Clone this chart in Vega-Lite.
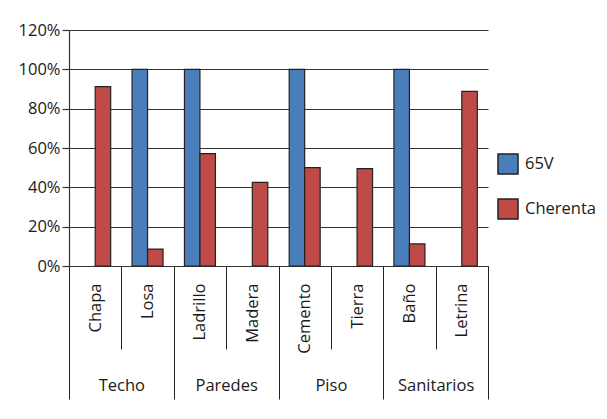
{
  "$schema": "https://vega.github.io/schema/vega-lite/v6.json",
  "width": 419,
  "height": 236,
  "autosize": {"type": "none"},
  "padding": {"left": 69, "top": 30, "right": 119, "bottom": 153},
  "background": "white",
  "config": {
    "view": {"stroke": null},
    "font": "Open Sans",
    "axis": {"labelColor": "#1a1a1a", "labelFontSize": 16.5, "labelFont": "Open Sans"},
    "legend": {"labelFont": "Open Sans"}
  },
  "data": {
    "values": [
      {"cat": "Chapa", "group": "Techo", "serie": "65V", "value": 0},
      {"cat": "Chapa", "group": "Techo", "serie": "Cherenta", "value": 0.912},
      {"cat": "Losa", "group": "Techo", "serie": "65V", "value": 1.0},
      {"cat": "Losa", "group": "Techo", "serie": "Cherenta", "value": 0.086},
      {"cat": "Ladrillo", "group": "Paredes", "serie": "65V", "value": 1.0},
      {"cat": "Ladrillo", "group": "Paredes", "serie": "Cherenta", "value": 0.571},
      {"cat": "Madera", "group": "Paredes", "serie": "65V", "value": 0},
      {"cat": "Madera", "group": "Paredes", "serie": "Cherenta", "value": 0.425},
      {"cat": "Cemento", "group": "Piso", "serie": "65V", "value": 1.0},
      {"cat": "Cemento", "group": "Piso", "serie": "Cherenta", "value": 0.5},
      {"cat": "Tierra", "group": "Piso", "serie": "65V", "value": 0},
      {"cat": "Tierra", "group": "Piso", "serie": "Cherenta", "value": 0.495},
      {"cat": "Baño", "group": "Sanitarios", "serie": "65V", "value": 1.0},
      {"cat": "Baño", "group": "Sanitarios", "serie": "Cherenta", "value": 0.112},
      {"cat": "Letrina", "group": "Sanitarios", "serie": "65V", "value": 0},
      {"cat": "Letrina", "group": "Sanitarios", "serie": "Cherenta", "value": 0.888}
    ]
  },
  "layer": [
    {
      "mark": {"type": "bar", "opacity": 0},
      "encoding": {
        "x": {
          "field": "group",
          "type": "nominal",
          "sort": ["Techo", "Paredes", "Piso", "Sanitarios"],
          "scale": {"paddingInner": 0, "paddingOuter": 0},
          "axis": {
            "orient": "bottom",
            "title": null,
            "tickBand": "extent",
            "tickSize": 133,
            "tickColor": "#222",
            "tickWidth": 1,
            "domain": false,
            "labelAngle": 0,
            "labelAlign": "center",
            "labelBaseline": "alphabetic",
            "labelPadding": -8.6,
            "labelFontSize": 16.5
          }
        }
      }
    },
    {
      "transform": [{"filter": "datum.value > 0"}],
      "mark": {"type": "bar", "stroke": "#222", "strokeWidth": 1.2},
      "encoding": {
        "x": {
          "field": "cat",
          "type": "nominal",
          "sort": ["Chapa", "Losa", "Ladrillo", "Madera", "Cemento", "Tierra", "Baño", "Letrina"],
          "scale": {"paddingInner": 0, "paddingOuter": 0},
          "axis": {
            "orient": "bottom",
            "title": null,
            "tickBand": "extent",
            "tickSize": 83,
            "tickColor": "#222",
            "tickWidth": 1,
            "domainColor": "#333",
            "domainWidth": 1.2,
            "labelAngle": 270,
            "labelAlign": "right",
            "labelBaseline": "middle",
            "labelPadding": -66,
            "labelOverlap": false,
            "labelFontSize": 16.5
          }
        },
        "xOffset": {
          "field": "serie",
          "type": "nominal",
          "scale": {"domain": ["65V", "Cherenta"], "paddingInner": 0, "paddingOuter": 0.69}
        },
        "y": {
          "field": "value",
          "type": "quantitative",
          "scale": {"domain": [0, 1.2], "nice": false},
          "axis": {
            "title": null,
            "values": [0, 0.2, 0.4, 0.6, 0.8, 1.0, 1.2],
            "format": ".0%",
            "grid": true,
            "gridColor": "#333",
            "gridWidth": 1.2,
            "tickSize": 7,
            "tickColor": "#333",
            "tickWidth": 1.2,
            "domainColor": "#333",
            "domainWidth": 1.2,
            "labelPadding": 2,
            "labelFontSize": 16.5
          }
        },
        "color": {
          "field": "serie",
          "type": "nominal",
          "scale": {"domain": ["65V", "Cherenta"], "range": ["#4A7EBB", "#BE4B48"]},
          "legend": {
            "title": null,
            "orient": "none",
            "legendX": 428,
            "legendY": 123,
            "symbolType": "square",
            "symbolSize": 400,
            "symbolStrokeColor": "#222",
            "symbolStrokeWidth": 1.5,
            "symbolOpacity": 1,
            "labelFontSize": 16.5,
            "labelColor": "#1a1a1a",
            "labelOffset": 6,
            "rowPadding": 19
          }
        }
      }
    }
  ],
  "resolve": {"scale": {"x": "independent"}, "axis": {"x": "independent"}}
}
